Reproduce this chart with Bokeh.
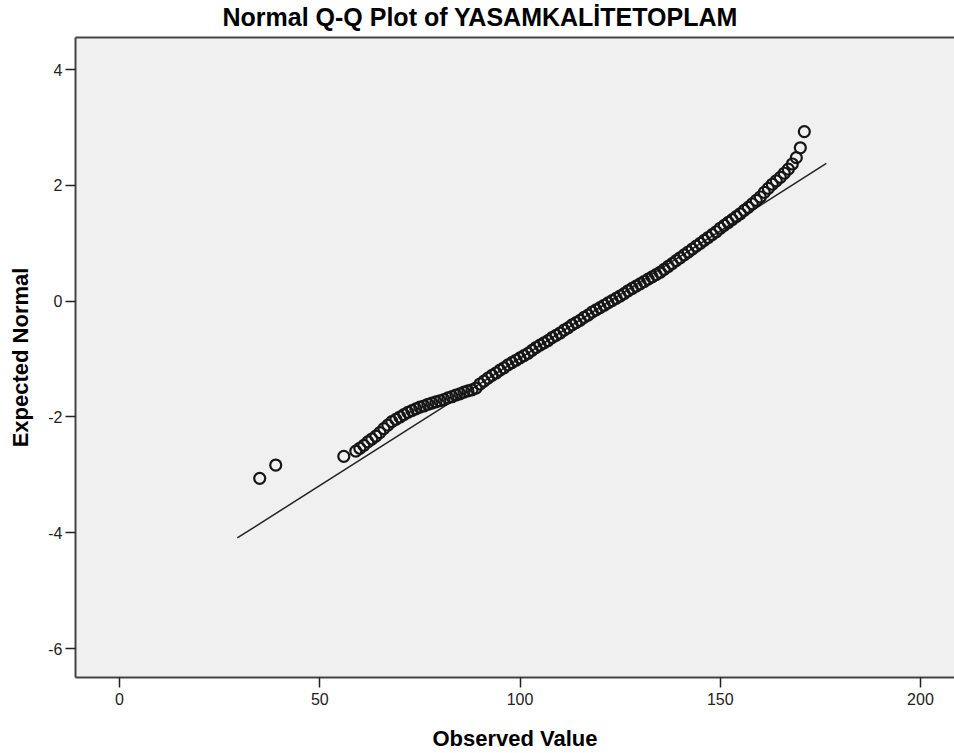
from bokeh.plotting import figure
from bokeh.models import Range1d, LinearAxis, FixedTicker, Title
from bokeh.embed import file_html
from bokeh.resources import INLINE

title_text = "Normal Q-Q Plot of YASAMKALİTETOPLAM"
x_label = "Observed Value"
y_label = "Expected Normal"

x_ticks = [0, 50, 100, 150, 200]
y_ticks = [-6, -4, -2, 0, 2, 4]

observed = [35, 39, 56] + list(range(59, 172))
expected = [
    -3.06, -2.83, -2.68,
    -2.59, -2.54, -2.49, -2.43, -2.38, -2.33, -2.27, -2.20, -2.14, -2.08,  # 59-68
    -2.04, -2.00, -1.96, -1.92, -1.89, -1.86, -1.83, -1.81, -1.78, -1.76,  # 69-78
    -1.74, -1.72, -1.70, -1.67, -1.65, -1.62, -1.60, -1.57, -1.55, -1.53,  # 79-88
    -1.50, -1.43, -1.38, -1.33, -1.28, -1.24, -1.19, -1.15, -1.10, -1.06,  # 89-98
    -1.02, -0.98, -0.94, -0.90, -0.85, -0.80, -0.76, -0.72, -0.68, -0.63,  # 99-108
    -0.59, -0.55, -0.50, -0.46, -0.41, -0.37, -0.33, -0.28, -0.24, -0.19,  # 109-118
    -0.15, -0.11, -0.07, -0.03, 0.01, 0.05, 0.09, 0.13, 0.18, 0.22,        # 119-128
    0.26, 0.30, 0.34, 0.38, 0.42, 0.46, 0.50, 0.55, 0.60, 0.65,            # 129-138
    0.70, 0.75, 0.80, 0.85, 0.90, 0.95, 1.00, 1.05, 1.10, 1.15,            # 139-148
    1.20, 1.26, 1.31, 1.36, 1.41, 1.46, 1.51, 1.57, 1.62, 1.68,            # 149-158
    1.74, 1.80, 1.88, 1.95, 2.02, 2.08, 2.14, 2.21, 2.28, 2.37,            # 159-168
    2.48, 2.65, 2.93,                                                      # 169-171
]

ref_line_x = [29.4, 176.5]
ref_line_y = [-4.09, 2.38]

FONT = "Liberation Sans"
INK = "#222222"

p = figure(
    width=954, height=753,
    x_range=Range1d(-11, 208.5), y_range=Range1d(-6.50, 4.555),
    output_backend="svg", toolbar_location=None,
    x_axis_location=None, y_axis_location=None,
    min_border_left=75, min_border_right=0, min_border_top=37, min_border_bottom=74,
)
p.background_fill_color = "#F0F0F0"
p.border_fill_color = "white"
p.outline_line_color = None
p.xgrid.visible = False
p.ygrid.visible = False

xaxis = LinearAxis(
    ticker=FixedTicker(ticks=x_ticks), axis_label=x_label,
    axis_line_color="#444444", axis_line_width=2,
    major_tick_line_color=INK, major_tick_line_width=1.5, major_tick_in=0, major_tick_out=10,
    minor_tick_line_color=None,
    major_label_text_font=FONT, major_label_text_font_size="16px", major_label_text_color=INK,
    major_label_standoff=5,
    axis_label_text_font=FONT, axis_label_text_font_size="22px", axis_label_text_font_style="bold",
    axis_label_text_color="black", axis_label_standoff=18,
)
yaxis = LinearAxis(
    ticker=FixedTicker(ticks=y_ticks), axis_label=y_label,
    major_label_overrides={t: str(t) for t in y_ticks},
    axis_line_color="#444444", axis_line_width=2,
    major_tick_line_color=INK, major_tick_line_width=1.5, major_tick_in=0, major_tick_out=10,
    minor_tick_line_color=None,
    major_label_text_font=FONT, major_label_text_font_size="16px", major_label_text_color=INK,
    major_label_standoff=3,
    axis_label_text_font=FONT, axis_label_text_font_size="22px", axis_label_text_font_style="bold",
    axis_label_text_color="black", axis_label_standoff=12,
)
top_border = LinearAxis(
    ticker=FixedTicker(ticks=[]),
    axis_line_color="#444444", axis_line_width=2,
    major_tick_line_color=None, minor_tick_line_color=None, major_tick_in=0, major_tick_out=0,
    major_label_text_font_size="0px", major_label_standoff=0,
    axis_label=" ", axis_label_text_font_size="1px", axis_label_standoff=3,
)
p.add_layout(xaxis, "below")
p.add_layout(yaxis, "left")
p.add_layout(top_border, "above")

title = Title(
    text=title_text, align="left", offset=147,
    text_font=FONT, text_font_size="25px", text_font_style="bold", text_color="black",
    standoff=0,
)
p.add_layout(title, "above")

p.line(ref_line_x, ref_line_y, line_color=INK, line_width=1.5)
p.scatter(observed, expected, marker="circle", size=11, fill_color=None,
          line_color="#161616", line_width=2.2)

open("out.html", "w").write(file_html(p, INLINE))
